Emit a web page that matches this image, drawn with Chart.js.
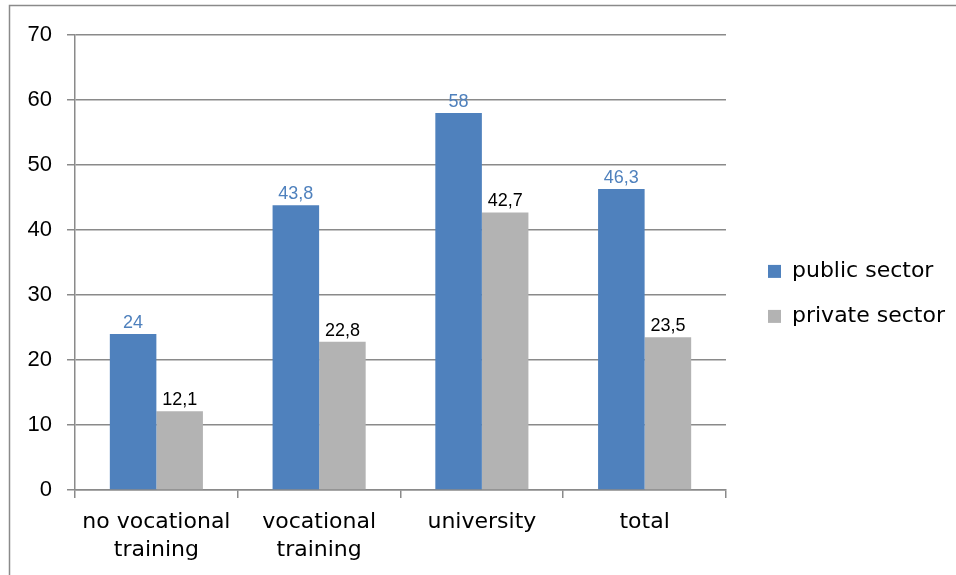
<!DOCTYPE html>
<html>
<head>
<meta charset="utf-8">
<script src="https://cdn.jsdelivr.net/npm/chart.js@4"></script>
<style>
html,body{margin:0;padding:0;background:#fff;}
#wrap{position:relative;width:956px;height:575px;}
</style>
</head>
<body>
<div id="wrap"><canvas id="c" width="956" height="575"></canvas></div>
<script>
const categories = [["no vocational","training"],["vocational","training"],["university"],["total"]];
const publicSector = [24, 43.8, 58, 46.3];
const privateSector = [12.1, 22.8, 42.7, 23.5];
const seriesNames = ["public sector","private sector"];
const yTicks = {min:0, max:70, step:10};

const frame = {
  id:'frame',
  beforeDraw(chart){
    const ctx = chart.ctx;
    ctx.save();
    ctx.fillStyle='#fff';
    ctx.fillRect(0,0,chart.width,chart.height);
    ctx.strokeStyle='#8a8a8a';
    ctx.lineWidth=1.5;
    ctx.beginPath();
    ctx.moveTo(9.5,chart.height);
    ctx.lineTo(9.5,5.5);
    ctx.lineTo(chart.width,5.5);
    ctx.stroke();
    ctx.restore();
  }
};
const labels = {
  id:'vlabels',
  afterDatasetsDraw(chart){
    const ctx = chart.ctx;
    ctx.save();
    ctx.font='18px "Liberation Sans", Arial, sans-serif';
    ctx.textAlign='center';
    ctx.textBaseline='alphabetic';
    chart.data.datasets.forEach((ds,i)=>{
      const meta = chart.getDatasetMeta(i);
      ctx.fillStyle = i===0 ? '#4F81BD' : '#000';
      meta.data.forEach((bar,j)=>{
        const v = ds.data[j];
        ctx.fillText(String(v).replace('.',','), bar.x, bar.y-6);
      });
    });
    ctx.restore();
  }
};

new Chart(document.getElementById('c'),{
  type:'bar',
  data:{
    labels:categories,
    datasets:[
      {label:seriesNames[0],data:publicSector,backgroundColor:'#4F81BD',categoryPercentage:0.572,barPercentage:1},
      {label:seriesNames[1],data:privateSector,backgroundColor:'#B3B3B3',categoryPercentage:0.572,barPercentage:1}
    ]
  },
  options:{
    responsive:false,
    animation:false,
    devicePixelRatio:1,
    layout:{padding:{left:28,top:35,right:1,bottom:0}},
    plugins:{
      legend:{
        position:'right',
        align:'start',
        title:{display:true,text:' ',padding:88,font:{size:22,family:'"DejaVu Sans", sans-serif'}},
        labels:{
          boxWidth:13,boxHeight:13,padding:23,color:'#000',
          font:{size:22,family:'"DejaVu Sans", sans-serif'}
        }
      },
      tooltip:{enabled:false}
    },
    scales:{
      x:{
        grid:{offset:true,drawOnChartArea:false,color:'#8a8a8a',lineWidth:1.5,tickLength:8},
        border:{color:'#8a8a8a',width:1.5},
        ticks:{color:'#000',padding:10,font:{size:22,lineHeight:1.27,family:'"DejaVu Sans", sans-serif'},maxRotation:0},
        afterFit(scale){ scale.height = 85; }
      },
      y:{
        min:yTicks.min,max:yTicks.max,
        ticks:{stepSize:yTicks.step,color:'#000',padding:15,font:{size:22,family:'"Liberation Sans", Arial, sans-serif'}},
        grid:{color:'#8a8a8a',lineWidth:1.5,tickLength:8},
        border:{color:'#8a8a8a',width:1.5},
        afterFit(scale){ scale.width = 47; }
      },
      gap:{
        position:'right',
        display:false,
        afterFit(scale){ scale.width = 19; }
      }
    }
  },
  plugins:[frame,labels]
});
</script>
</body>
</html>
